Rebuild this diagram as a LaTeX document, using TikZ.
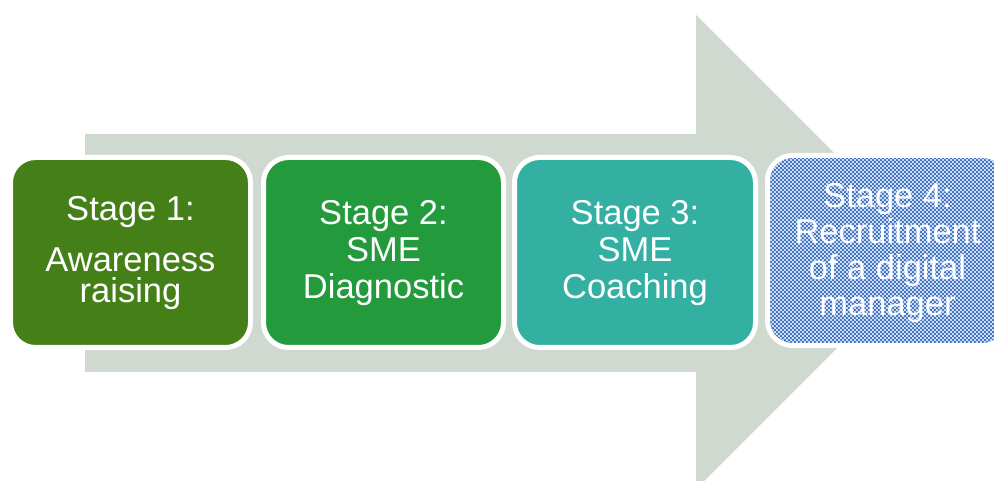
\documentclass[tikz,border=0pt]{standalone}
\usepackage{fontspec}
\setmainfont{Liberation Sans}
\usetikzlibrary{patterns}
\definecolor{arrowgray}{RGB}{207,217,207}
\definecolor{stageone}{RGB}{69,127,24}
\definecolor{stagetwo}{RGB}{35,154,60}
\definecolor{stagethree}{RGB}{51,176,162}
\definecolor{stagefour}{RGB}{62,112,192}
\definecolor{stagedots}{RGB}{205,220,242}
\pgfdeclarepatternformonly{stagechecker}{\pgfpointorigin}{\pgfpoint{4.4pt}{4.4pt}}{\pgfpoint{4.4pt}{4.4pt}}{%
  \pgfpathrectangle{\pgfpoint{0pt}{0pt}}{\pgfpoint{2.2pt}{2.2pt}}%
  \pgfpathrectangle{\pgfpoint{2.2pt}{2.2pt}}{\pgfpoint{2.2pt}{2.2pt}}%
  \pgfusepath{fill}}
\tikzset{
  stagebox/.style={draw=white, line width=5pt, rounded corners=25pt, anchor=south west,
    inner sep=0pt, outer sep=0pt},
  stagetext/.style={text=white, align=center, font=\fontsize{34.5}{37}\selectfont},
}
\begin{document}
\begin{tikzpicture}[x=1pt,y=1pt]
\useasboundingbox (0,0) rectangle (994,481);
\begin{scope}
\clip (0,0) rectangle (994,481);
% big arrow (image y -> 481 - y)
\fill[arrowgray] (85,{481-134}) -- (696,{481-134}) -- (696,{481-15}) -- (933,{481-252})
  -- (696,{481-489}) -- (696,{481-372}) -- (85,{481-372}) -- cycle;
\node[stagebox, fill=stageone, minimum width=240pt, minimum height=190pt]
  (b1) at (10.5,{481-347.5}) {};
\node[stagebox, fill=stagetwo, minimum width=240pt, minimum height=190pt]
  (b2) at (263.5,{481-347.5}) {};
\node[stagebox, fill=stagethree, minimum width=241pt, minimum height=190pt]
  (b3) at (514.5,{481-347.5}) {};
\node[stagebox, fill=stagefour, minimum width=240pt, minimum height=190pt]
  (b4) at (767.5,{481-345.5}) {};
\fill[pattern=stagechecker, pattern color=stagedots, rounded corners=23pt]
  (770,{481-343}) rectangle (1005,{481-158});
\node[stagetext] (t1) at ([yshift=-1pt]b1.center)
  {Stage 1:\\[14pt]Awareness\\[-6pt]raising};
\node[stagetext] (t2) at ([yshift=-1pt]b2.center)
  {Stage 2:\\SME\\Diagnostic};
\node[stagetext] (t3) at ([yshift=-1pt]b3.center)
  {Stage 3:\\SME\\Coaching};
\node[stagetext, font=\fontsize{34.5}{36}\selectfont] (t4) at ([yshift=-3pt]b4.center)
  {Stage 4:\\Recruitment\\of a digital\\manager};
\end{scope}
\end{tikzpicture}
\end{document}
